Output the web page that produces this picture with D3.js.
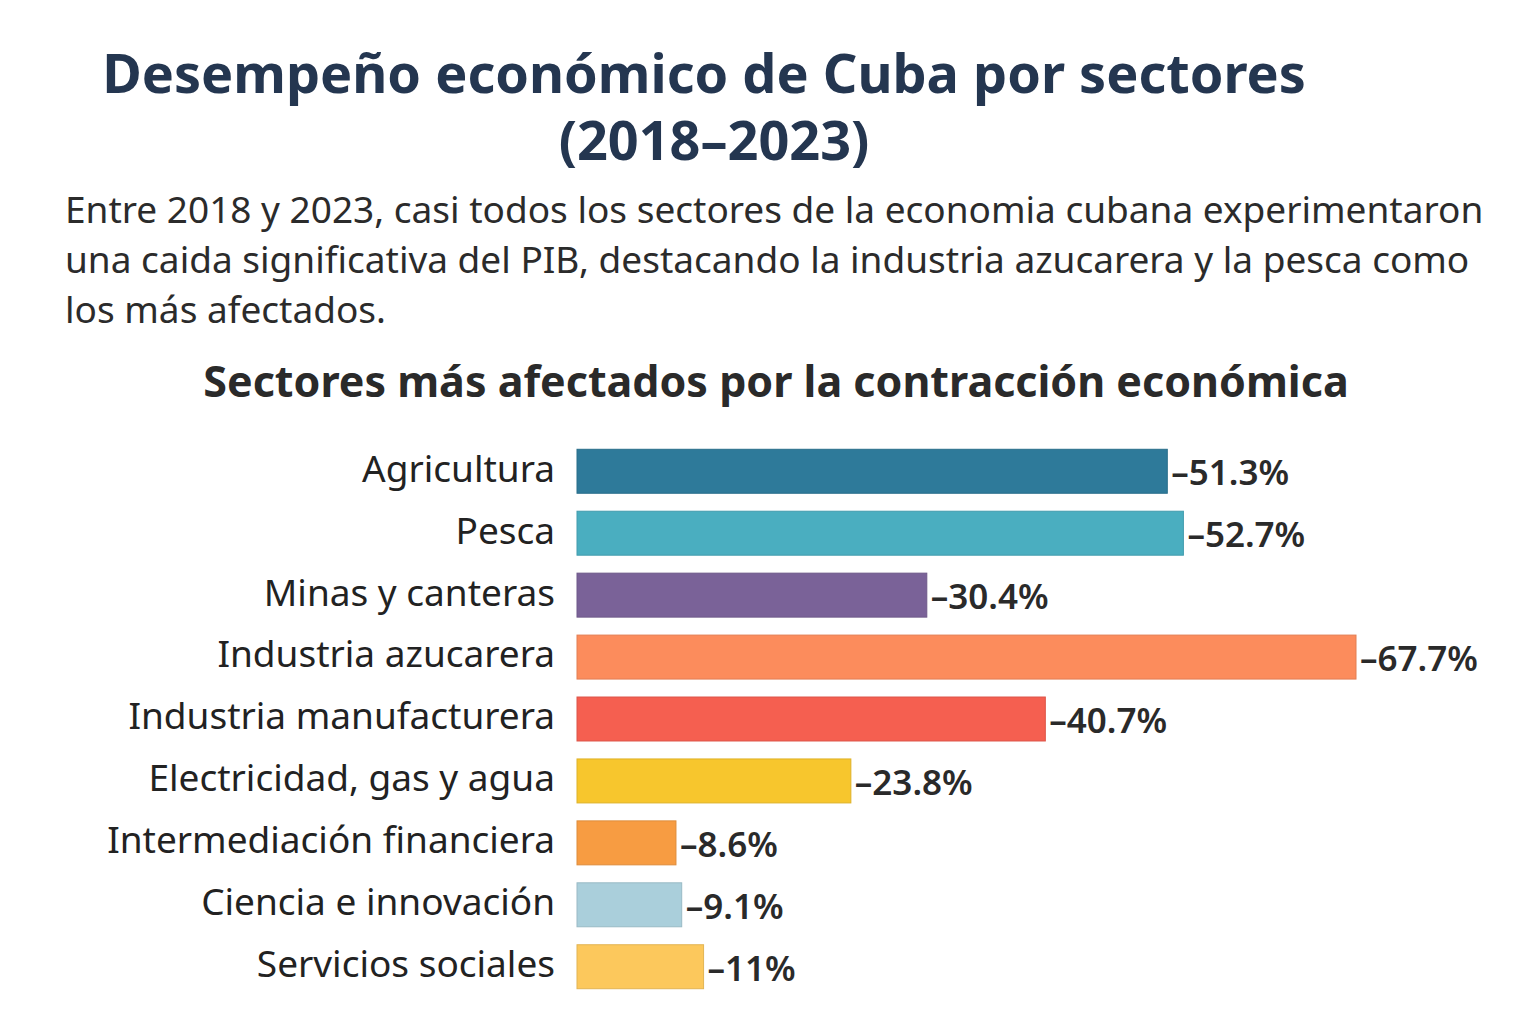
<!DOCTYPE html>
<html>
<head>
<meta charset="utf-8">
<script src="https://cdn.jsdelivr.net/npm/d3@7"></script>
<style>
  body { margin: 0; background: #fff; }
  svg { display: block; }
</style>
</head>
<body>
<div id="chart"></div>
<script>
// data
var sectors = ["Agricultura", "Pesca", "Minas y canteras", "Industria azucarera",
  "Industria manufacturera", "Electricidad, gas y agua", "Intermediación financiera",
  "Ciencia e innovación", "Servicios sociales"];
var changes = [-51.3, -52.7, -30.4, -67.7, -40.7, -23.8, -8.6, -9.1, -11];
var barColors = ["#2e7a9a", "#4aaec0", "#7a6298", "#fc8c5c", "#f55f50",
  "#f7c62d", "#f79c42", "#aacfdb", "#fcc85c"];

var titleLines = ["Desempeño económico de Cuba por sectores", "(2018–2023)"];
var introLines = ["Entre 2018 y 2023, casi todos los sectores de la economia cubana experimentaron",
  "una caida significativa del PIB, destacando la industria azucarera y la pesca como",
  "los más afectados."];
var chartTitle = "Sectores más afectados por la contracción económica";

var W = 1536, H = 1024;
var margin = {top: 440, right: 180, bottom: 26, left: 577};

var svg = d3.select("#chart").append("svg")
  .attr("width", W)
  .attr("height", H);

var font = "'Noto Sans', 'Open Sans', sans-serif";

// main title
svg.selectAll(".title")
  .data(titleLines)
  .enter()
  .append("text")
  .attr("class", "title")
  .attr("x", function(d, i) { return i == 0 ? 704 : 714; })
  .attr("y", function(d, i) { return 93 + i * 67; })
  .attr("text-anchor", "middle")
  .style("font-family", font)
  .style("font-weight", "700")
  .style("font-size", "54px")
  .style("fill", "#243650")
  .text(function(d) { return d; });

// intro paragraph
svg.selectAll(".intro")
  .data(introLines)
  .enter()
  .append("text")
  .attr("class", "intro")
  .attr("x", 65)
  .attr("y", function(d, i) { return 223 + i * 50; })
  .style("font-family", font)
  .style("font-size", "37px")
  .style("fill", "#2b2b2b")
  .text(function(d) { return d; });

svg.append("text")
  .attr("x", 776)
  .attr("y", 397)
  .attr("text-anchor", "middle")
  .style("font-family", font)
  .style("font-weight", "700")
  .style("font-size", "43px")
  .style("fill", "#2a2a2a")
  .text(chartTitle);

var xScale = d3.scaleLinear()
  .domain([0, d3.max(changes, function(d) { return Math.abs(d); })])
  .range([margin.left, W - margin.right]);

var yScale = d3.scaleBand()
  .domain(sectors)
  .range([margin.top, H - margin.bottom])
  .paddingInner(0.29)
  .paddingOuter(0.15);

var rows = sectors.map(function(s, i) {
  return {name: s, value: changes[i], color: barColors[i]};
});

var area = svg.append("g").attr("class", "area");

area.selectAll("rect")
  .data(rows)
  .enter()
  .append("rect")
  .attr("x", xScale(0))
  .attr("y", function(d) { return yScale(d.name); })
  .attr("width", function(d) { return xScale(Math.abs(d.value)) - xScale(0); })
  .attr("height", yScale.bandwidth())
  .attr("fill", function(d) { return d.color; })
  .attr("stroke", function(d) { return d3.color(d.color).darker(0.3); })
  .attr("stroke-width", 1);

// value labels
area.selectAll(".val")
  .data(rows)
  .enter()
  .append("text")
  .attr("class", "val")
  .attr("x", function(d) { return xScale(Math.abs(d.value)) + 4; })
  .attr("y", function(d) { return yScale(d.name) + yScale.bandwidth() / 2 + 14; })
  .style("font-family", font)
  .style("font-weight", "600")
  .style("font-size", "35px")
  .style("fill", "#2a2a2a")
  .text(function(d) { return "–" + Math.abs(d.value) + "%"; });

// category labels
var yAxis = d3.axisLeft(yScale).tickSize(0).tickPadding(22);
var ax = svg.append("g")
  .attr("transform", "translate(" + margin.left + ",0)")
  .call(yAxis);
ax.select(".domain").remove();
ax.selectAll("text")
  .attr("dy", "0.28em")
  .style("font-family", font)
  .style("font-size", "37px")
  .style("fill", "#222");
</script>
</body>
</html>
